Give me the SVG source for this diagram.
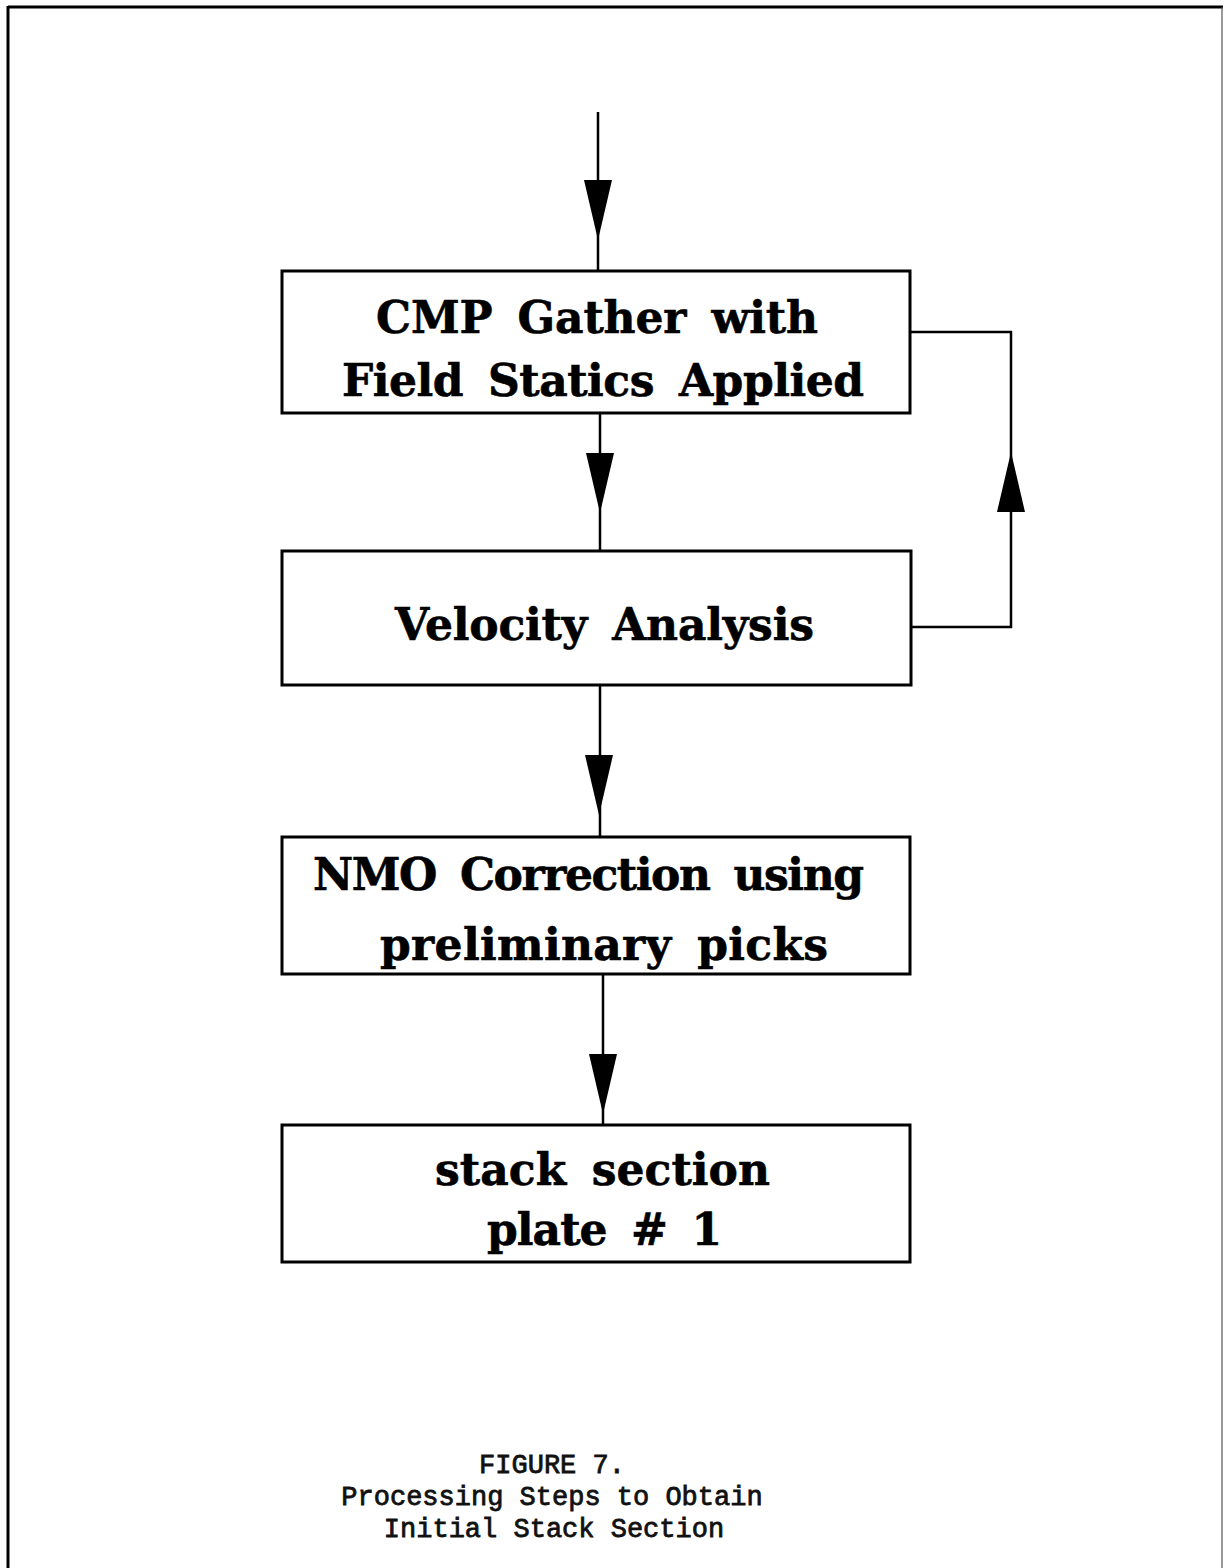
<svg xmlns="http://www.w3.org/2000/svg" xmlns:xlink="http://www.w3.org/1999/xlink" width="1225" height="1568" viewBox="0 0 1225 1568">
<style>
.box{fill:#fff;stroke:#000;stroke-width:3}
.lbl{font-family:"DejaVu Serif","Liberation Serif",serif;font-weight:bold;font-size:44px;word-spacing:10px;fill:#000;stroke:#000;stroke-width:0.6;text-anchor:start}
.cap{font-family:"Liberation Mono","Courier New",monospace;font-size:27px;fill:#111;stroke:#111;stroke-width:0.8;text-anchor:middle}
.ln{stroke:#000;stroke-width:2.5;fill:none}
</style>
<defs>
<path id="headDown" d="M-14,0 L14,0 L0,60 Z" fill="#000"/>
<path id="headUp" d="M-14,0 L14,0 L0,-60 Z" fill="#000"/>
</defs>
<rect x="0" y="0" width="1225" height="1568" fill="#fff"/>
<g id="page-border">
<line x1="8" y1="7" x2="1223" y2="7" stroke="#000" stroke-width="3"/>
<line x1="8" y1="6" x2="8" y2="1568" stroke="#000" stroke-width="3"/>
<line x1="1222" y1="7" x2="1222" y2="1568" stroke="#555" stroke-width="1.2"/>
</g>
<g id="connectors">
<line class="ln" x1="598" y1="112" x2="598" y2="271"/>
<use xlink:href="#headDown" x="598" y="180"/>
<line class="ln" x1="600" y1="413" x2="600" y2="551"/>
<use xlink:href="#headDown" x="600" y="453"/>
<line class="ln" x1="600" y1="685" x2="600" y2="837"/>
<use xlink:href="#headDown" x="599" y="755"/>
<line class="ln" x1="603" y1="974" x2="603" y2="1125"/>
<use xlink:href="#headDown" x="603" y="1054"/>
<polyline class="ln" points="911,627 1011,627 1011,332 910,332"/>
<use xlink:href="#headUp" x="1011" y="512"/>
</g>
<g id="node-cmp">
<rect class="box" x="282" y="271" width="628" height="142"/>
<text class="lbl" x="376" y="333" textLength="442" lengthAdjust="spacing">CMP Gather with</text>
<text class="lbl" x="342" y="396" textLength="522" lengthAdjust="spacing">Field Statics Applied</text>
</g>
<g id="node-velocity">
<rect class="box" x="282" y="551" width="629" height="134"/>
<text class="lbl" x="395" y="640" textLength="419" lengthAdjust="spacing">Velocity Analysis</text>
</g>
<g id="node-nmo">
<rect class="box" x="282" y="837" width="628" height="137"/>
<text class="lbl" x="313" y="890" textLength="551" lengthAdjust="spacing">NMO Correction using</text>
<text class="lbl" x="380" y="960" textLength="448" lengthAdjust="spacing">preliminary picks</text>
</g>
<g id="node-stack">
<rect class="box" x="282" y="1125" width="628" height="137"/>
<text class="lbl" x="435" y="1185" textLength="335" lengthAdjust="spacing">stack section</text>
<text class="lbl" x="487" y="1245" textLength="235" lengthAdjust="spacing">plate # 1</text>
</g>
<g id="caption">
<text class="cap" x="552" y="1473">FIGURE 7.</text>
<text class="cap" x="552" y="1505">Processing Steps to Obtain</text>
<text class="cap" x="554" y="1537">Initial Stack Section</text>
</g>
</svg>
